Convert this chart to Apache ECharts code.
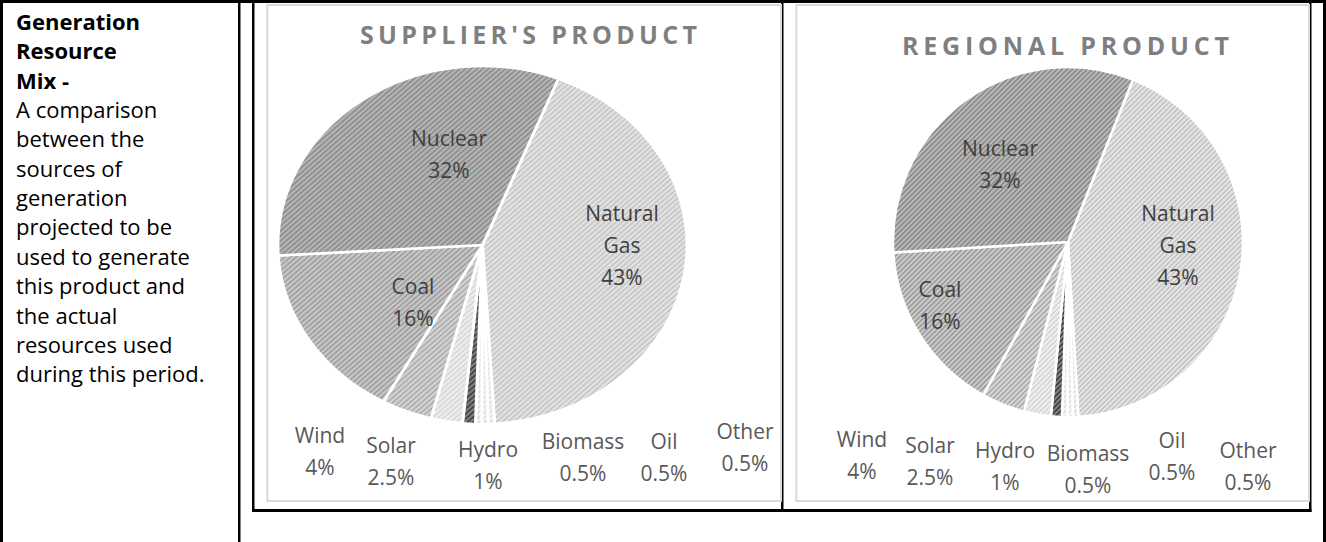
<!DOCTYPE html>
<html>
<head>
<meta charset="utf-8">
<script src="https://cdn.jsdelivr.net/npm/echarts@6/dist/echarts.min.js"></script>
<style>
html,body{margin:0;padding:0;background:#fff;}
#wrap{position:relative;width:1326px;height:542px;overflow:hidden;background:#fff;}
#lp{position:absolute;left:0;top:0;width:1326px;height:542px;transform-origin:482.5px 0;transform:scaleX(1.1425);}
#c{position:absolute;left:0;top:0;width:1326px;height:542px;}
.ttl{position:absolute;font-family:'Open Sans',sans-serif;font-weight:bold;color:#7f7f7f;white-space:nowrap;font-size:25px;line-height:34px;}
</style>
</head>
<body>
<div id="wrap">
<div id="lp"></div>
<div id="c"></div>
<div class="ttl" id="t0"></div>
<div class="ttl" id="t1"></div>
</div>
<script>
// ---------- data ----------
const categories = ['Natural Gas', 'Other', 'Oil', 'Biomass', 'Hydro', 'Solar', 'Wind', 'Coal', 'Nuclear'];
const supplierValues = [43, 0.5, 0.5, 0.5, 1, 2.5, 4, 16, 32];
const regionalValues = [43, 0.5, 0.5, 0.5, 1, 2.5, 4, 16, 32];
const chartTitles = ["SUPPLIER'S PRODUCT", 'REGIONAL PRODUCT'];
const headingLines = ['Generation', 'Resource', 'Mix -'];
const descriptionLines = ['A comparison', 'between the', 'sources of', 'generation', 'projected to be',
  'used to generate', 'this product and', 'the actual', 'resources used', 'during this period.'];

// ---------- styles ----------
const sliceBase   = ['#e2e2e2', '#f2f2f2', '#f2f2f2', '#f2f2f2', '#7c7c7c', '#ededed', '#d2d2d2', '#c6c6c6', '#b4b4b4'];
const sliceStripe = ['#c4c4c4', '#dddddd', '#dddddd', '#dddddd', '#3e3e3e', '#d6d6d6', '#ababab', '#9c9c9c', '#8a8a8a'];
const insideSet = {'Natural Gas': 1, 'Coal': 1, 'Nuclear': 1};
const leftLabelPos = {
  'Nuclear': [449, 154], 'Natural Gas': [622, 245], 'Coal': [413, 302],
  'Wind': [320, 451], 'Solar': [391, 461], 'Hydro': [488, 465],
  'Biomass': [583, 457], 'Oil': [664, 457], 'Other': [745, 447]
};
const rightLabelPos = {
  'Nuclear': [1000, 164], 'Natural Gas': [1178, 245], 'Coal': [940, 305],
  'Wind': [862, 455], 'Solar': [930, 461], 'Hydro': [1005, 466],
  'Biomass': [1088, 469], 'Oil': [1172, 456], 'Other': [1248, 466]
};

function makePattern(base, stripe) {
  const n = 5;
  const cv = document.createElement('canvas');
  cv.width = n; cv.height = n;
  const ctx = cv.getContext('2d');
  ctx.fillStyle = base; ctx.fillRect(0, 0, n, n);
  ctx.fillStyle = stripe;
  for (let x = 0; x < n; x++) for (let y = 0; y < n; y++) {
    const m = (x + y) % n;
    if (m === 0 || m === 1) ctx.fillRect(x, y, 1, 1);
  }
  return {image: cv.toDataURL(), repeat: 'repeat', imageWidth: n, imageHeight: n};
}
const patterns = sliceBase.map((b, i) => makePattern(b, sliceStripe[i]));

const labelCfg = {
  formatter: p => p.name.replace(' ', '\n') + '\n' + p.value + '%',
  fontFamily: 'Open Sans', fontSize: 21, lineHeight: 32, align: 'center'
};

function pieSeries(values, center, radius, labelPos, showLabels, ghost) {
  return {
    type: 'pie', center: center, radius: radius, startAngle: 68.2, clockwise: true,
    animation: false, silent: true, avoidLabelOverlap: false,
    itemStyle: ghost ? {borderWidth: 0} : {borderColor: '#ffffff', borderWidth: 2.5},
    data: categories.map((name, i) => ({
      name: name, value: values[i],
      itemStyle: {color: ghost ? 'rgba(0,0,0,0)' : patterns[i]},
      label: {color: insideSet[name] ? '#404040' : '#595959'}
    })),
    label: Object.assign({show: showLabels, position: 'outside'}, labelCfg),
    labelLine: {show: false},
    labelLayout: labelPos ? (params => {
      const p = labelPos[categories[params.dataIndex]];
      return {x: p[0], y: p[1], align: 'center', verticalAlign: 'middle'};
    }) : undefined
  };
}

// ---------- frame graphics ----------
const black = '#000000', gray = '#d9d9d9';
const graphics = [
  {type: 'rect', shape: {x: 0, y: 0, width: 1326, height: 3}, style: {fill: black}},
  {type: 'rect', shape: {x: 0, y: 0, width: 3, height: 542}, style: {fill: black}},
  {type: 'rect', shape: {x: 238, y: 0, width: 2.5, height: 542}, style: {fill: black}},
  {type: 'rect', shape: {x: 1323, y: 0, width: 3, height: 542}, style: {fill: black}},
  {type: 'rect', shape: {x: 252, y: 0, width: 2.5, height: 512}, style: {fill: black}},
  {type: 'rect', shape: {x: 781, y: 0, width: 2.5, height: 512}, style: {fill: black}},
  {type: 'rect', shape: {x: 1309, y: 0, width: 2.5, height: 512}, style: {fill: black}},
  {type: 'rect', shape: {x: 252, y: 509, width: 1059.5, height: 3}, style: {fill: black}},
  {type: 'rect', shape: {x: 267.3, y: 5, width: 513.7, height: 496}, style: {fill: 'none', stroke: gray, lineWidth: 2}},
  {type: 'rect', shape: {x: 796.3, y: 5, width: 512.7, height: 496}, style: {fill: 'none', stroke: gray, lineWidth: 2}},
  {type: 'text', x: 16, y: 6, style: {text: headingLines.join('\n'), fontFamily: 'Open Sans', fontWeight: 'bold',
    fontSize: 22, lineHeight: 29.4, fill: '#000000'}},
  {type: 'text', x: 16, y: 6 + 3 * 29.4, style: {text: descriptionLines.join('\n'), fontFamily: 'Open Sans',
    fontSize: 22, lineHeight: 29.4, fill: '#000000'}}
];

// left pie: drawn in its own layer, stretched horizontally like the reference
const leftPie = echarts.init(document.getElementById('lp'), null, {renderer: 'svg'});
leftPie.setOption({
  animation: false,
  series: [pieSeries(supplierValues, [482.5, 245], 179, null, false, false)]
});

const chart = echarts.init(document.getElementById('c'), null, {renderer: 'svg'});
chart.setOption({
  animation: false,
  graphic: graphics,
  series: [
    pieSeries(supplierValues, [482.5, 245], 179, leftLabelPos, true, true),
    pieSeries(regionalValues, [1068, 242], 175, rightLabelPos, true, false)
  ]
});

// titles (letter-spaced)
const t0 = document.getElementById('t0');
t0.textContent = chartTitles[0];
t0.style.left = '360px'; t0.style.top = '17px'; t0.style.letterSpacing = '4.3px';
const t1 = document.getElementById('t1');
t1.textContent = chartTitles[1];
t1.style.left = '902px'; t1.style.top = '28px'; t1.style.letterSpacing = '4.8px';
</script>
</body>
</html>
